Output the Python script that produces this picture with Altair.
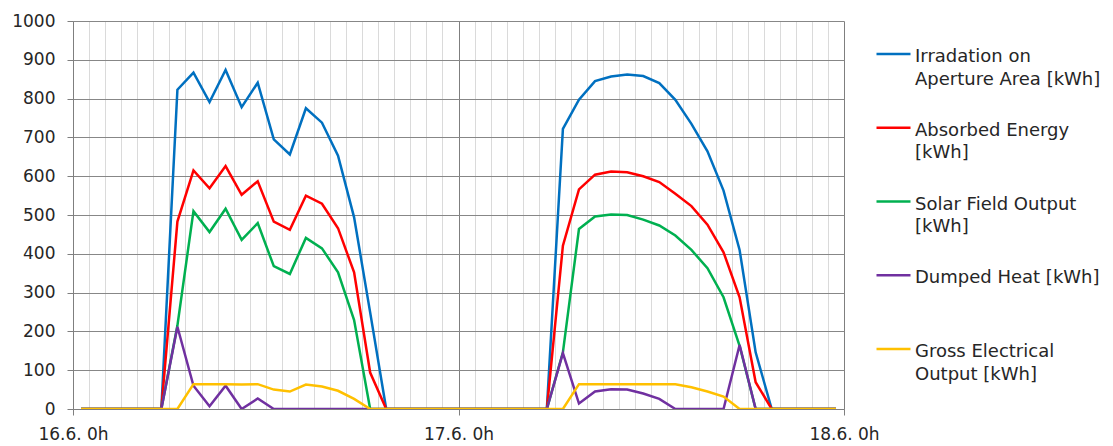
import altair as alt
import pandas as pd

# hourly categories (48 hours, 16.6. 0h .. 18.6. 0h)
hours = list(range(48))

series_names = [
    "Irradation on|Aperture Area [kWh]",
    "Absorbed Energy|[kWh]",
    "Solar Field Output|[kWh]",
    "Dumped Heat [kWh]|",
    "Gross Electrical|Output [kWh]",
]
series_colors = ["#0070C0", "#FF0000", "#00B050", "#7030A0", "#FFC000"]

irradiation = [0]*6 + [823, 867, 791, 874, 778, 841, 695, 656, 775, 738, 653, 494, 249, 0] + [0]*10 + \
    [722, 797, 845, 857, 862, 858, 840, 797, 735, 664, 563, 410, 146, 0] + [0]*4
absorbed = [0]*6 + [483, 615, 569, 626, 552, 587, 483, 462, 550, 529, 466, 352, 94, 0] + [0]*10 + \
    [421, 566, 604, 612, 610, 600, 585, 555, 523, 475, 404, 288, 69, 0] + [0]*4
solar_field = [0]*6 + [215, 510, 456, 516, 436, 479, 368, 348, 441, 414, 352, 229, 0, 0] + [0]*10 + \
    [146, 464, 496, 501, 500, 488, 473, 447, 410, 363, 288, 163, 0, 0] + [0]*4
dumped = [0]*6 + [212, 60, 7, 60, 0, 27, 0, 0, 0, 0, 0, 0, 0, 0] + [0]*10 + \
    [144, 14, 45, 51, 50, 40, 26, 0, 0, 0, 0, 165, 0, 0] + [0]*4
gross = [0]*6 + [0, 64, 64, 64, 63, 64, 50, 45, 63, 58, 47, 26, 0, 0] + [0]*10 + \
    [0, 64, 64, 64, 64, 64, 64, 64, 56, 45, 32, 0, 0, 0] + [0]*4

x_tick_values = [0, 24, 48]
x_tick_labels = ["16.6. 0h", "17.6. 0h", "18.6. 0h"]
y_ticks = list(range(0, 1001, 100))

all_series = [irradiation, absorbed, solar_field, dumped, gross]
rows = []
for order, (name, vals) in enumerate(zip(series_names, all_series)):
    for h, v in zip(hours, vals):
        rows.append({"hour": h + 0.5, "value": v, "series": name, "order": order})
df = pd.DataFrame(rows)

label_expr = " : ".join(
    f"datum.value == {v} ? '{l}'" for v, l in zip(x_tick_values, x_tick_labels)
) + " : ''"

FONT = "DejaVu Sans"
TXT = "#262626"

chart = alt.Chart(df).mark_line(strokeWidth=2.5, strokeJoin="miter", clip=True).encode(
    x=alt.X("hour:Q",
            scale=alt.Scale(domain=[0, 48], nice=False, zero=False),
            axis=alt.Axis(values=list(range(49)), title=None, labelExpr=label_expr,
                          labelOverlap=False, labelFlush=False, labelBound=False,
                          labelFont=FONT, labelFontSize=17, labelColor=TXT, labelPadding=11,
                          tickSize=6, tickWidth=1,
                          tickColor=alt.condition("datum.value % 24 == 0", alt.value("#7f7f7f"), alt.value("transparent")),
                          gridColor=alt.condition("datum.value % 24 == 0", alt.value("#7f7f7f"), alt.value("#dadada")),
                          gridWidth=1, gridOpacity=1,
                          domainColor="#7f7f7f", domainWidth=1)),
    y=alt.Y("value:Q",
            scale=alt.Scale(domain=[0, 1000], nice=False),
            axis=alt.Axis(values=y_ticks, title=None, format="d", labelFont=FONT, labelFontSize=17,
                          labelColor=TXT, labelPadding=12, tickSize=6, tickColor="#7f7f7f",
                          gridColor="#878787", gridWidth=1, gridOpacity=1,
                          domainColor="#7f7f7f", domainWidth=1)),
    color=alt.Color("series:N",
                    scale=alt.Scale(domain=series_names, range=series_colors),
                    sort=series_names,
                    legend=alt.Legend(title=None, orient="none", legendX=802, legendY=8.5,
                                      symbolType="M-1,0.35L1,0.35", symbolSize=1156, symbolStrokeWidth=2.5,
                                      labelExpr="split(datum.label, '|')",
                                      labelFont=FONT, labelFontSize=18, labelColor=TXT,
                                      labelLimit=400, labelOffset=3, labelBaseline="top",
                                      rowPadding=14.75, padding=0)),
    order=alt.Order("order:Q"),
    detail="series:N",
).properties(
    width=771, height=388,
    padding={"left": 3, "top": 4, "right": 0, "bottom": 0},
).configure(style={"guide-label": {"lineHeight": 22.5}}).configure_view(stroke=None)

chart.save("out.html", embed_options={"renderer": "svg", "actions": False})
